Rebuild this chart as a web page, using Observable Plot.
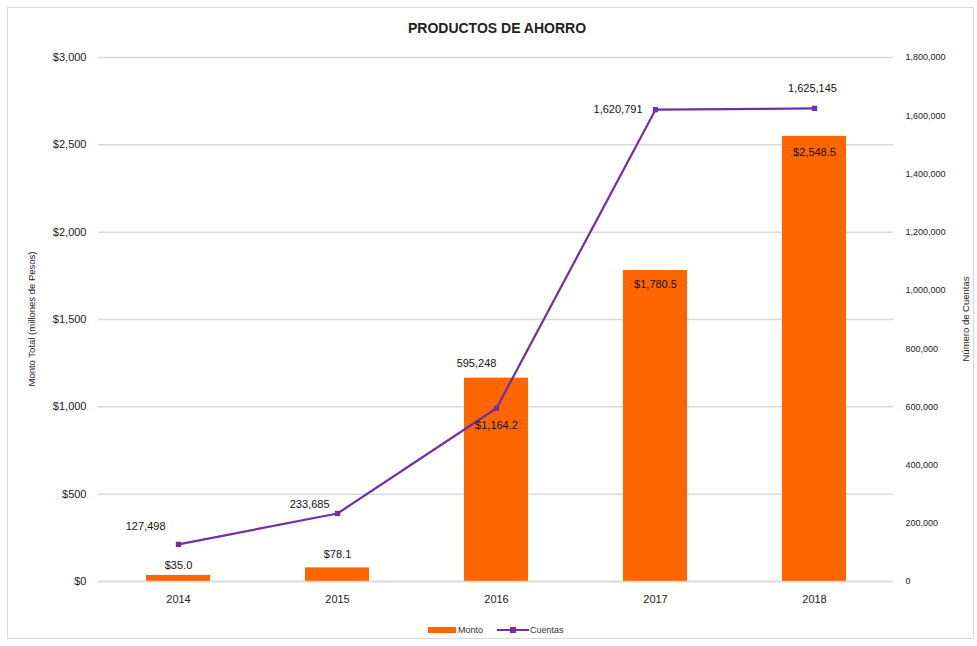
<!DOCTYPE html>
<html><head><meta charset="utf-8">
<script src="https://cdn.jsdelivr.net/npm/d3@7"></script>
<script src="https://cdn.jsdelivr.net/npm/@observablehq/plot@0.6"></script>
<style>
body{margin:0;background:#fff;font-family:"Liberation Sans",Arial,sans-serif;}
#wrap{position:relative;width:977px;height:646px;overflow:hidden;}
#border{position:absolute;left:7px;top:7px;width:967px;height:632px;border:1px solid #d9d9d9;box-sizing:border-box;}
#title{position:absolute;left:0;width:994px;top:20px;text-align:center;font-size:14px;font-weight:bold;color:#222;}
#chart{position:absolute;left:0;top:0;}
#legend{position:absolute;top:625px;left:428px;font-size:9px;color:#333;display:flex;align-items:center;}
.sw{display:inline-block;}
</style></head>
<body>
<div id="wrap">
<div id="border"></div>
<div id="chart"></div>
<div id="title">PRODUCTOS DE AHORRO</div>
<div id="legend">
 <span class="sw" style="width:28px;height:6px;background:#FF6600;"></span><span style="margin-left:2px;">Monto</span>
 <svg width="32" height="10" style="margin-left:14px;"><line x1="0" y1="5" x2="32" y2="5" stroke="#7030A0" stroke-width="2"/><rect x="13" y="2" width="6" height="6" fill="#7030A0"/></svg><span style="margin-left:1px;">Cuentas</span>
</div>
</div>
<script>
const years = ["2014","2015","2016","2017","2018"];
const monto = [35.0, 78.1, 1164.2, 1780.5, 2548.5];
const cuentas = [127498, 233685, 595248, 1620791, 1625145];
const montoLabels = ["$35.0","$78.1","$1,164.2","$1,780.5","$2,548.5"];

// layout-only offsets for labels (pixels)
const barLabelDy = [-10, -13, 47, 14, 16];
const lineLabel = [
  {dx:-13, dy:-18, anchor:"end"},
  {dx:-8, dy:-9, anchor:"end"},
  {dx:-20, dy:-45, anchor:"middle"},
  {dx:-13, dy:0, anchor:"end"},
  {dx:-2, dy:-20, anchor:"middle"}
];

const yMax = 3000, rMax = 1800000, k = rMax / yMax;
const data = years.map((y,i)=>({year:y, monto:monto[i], cuentas:cuentas[i], c:cuentas[i]/k, ml:montoLabels[i], i}));

const fmt = d3.format(",");
const font = "Liberation Sans, Arial, sans-serif";

const marks = [
  Plot.gridY(d3.range(0, 3001, 500), {stroke:"#d9d9d9", strokeOpacity:1, strokeWidth:1.5}),
  Plot.axisY(d3.range(0,3001,500), {anchor:"left", tickSize:0, tickPadding:12, tickFormat:d=>"$"+fmt(d), fontSize:11, label:null}),
  Plot.axisY(d3.range(0, rMax+1, 200000).map(v=>v/k), {anchor:"right", tickSize:0, tickPadding:12, tickFormat:d=>fmt(Math.round(d*k)), fontSize:9, label:null}),
  Plot.axisX({tickSize:0, tickPadding:14, fontSize:11, label:null}),
  Plot.barY(data, {x:"year", y:"monto", fill:"#FF6600"}),
  Plot.ruleY([0], {stroke:"#d9d9d9", strokeWidth:1.5}),
  Plot.line(data, {x:"year", y:"c", stroke:"#7030A0", strokeWidth:2.2}),
  Plot.dot(data, {x:"year", y:"c", symbol:"square", r:3, fill:"#7030A0"}),
];
data.forEach((d,i)=>{
  marks.push(Plot.text([d], {x:"year", y:"monto", text:"ml", dy:barLabelDy[i], fontSize:11, fill:"#111"}));
  const L = lineLabel[i];
  marks.push(Plot.text([d], {x:"year", y:"c", text:d=>fmt(d.cuentas), dx:L.dx, dy:L.dy, textAnchor:L.anchor, fontSize:11, fill:"#111"}));
});

const chart = Plot.plot({
  width:977, height:646,
  marginLeft:98, marginRight:84, marginTop:57, marginBottom:65,
  style:{fontFamily:font, color:"#222", background:"transparent"},
  x:{domain:years, paddingInner:0.6, paddingOuter:0.3, label:null},
  y:{domain:[0,yMax], label:null},
  marks
});
document.getElementById("chart").appendChild(chart);

// axis titles
const svg = d3.select(chart);
svg.append("text").attr("transform","translate(35,319) rotate(-90)").attr("text-anchor","middle")
  .attr("font-size",9.5).attr("fill","#222").attr("font-family",font).text("Monto Total (millones de Pesos)");
svg.append("text").attr("transform","translate(969,319) rotate(-90)").attr("text-anchor","middle")
  .attr("font-size",9.5).attr("fill","#222").attr("font-family",font).text("Número de Cuentas");
</script>
</body></html>
